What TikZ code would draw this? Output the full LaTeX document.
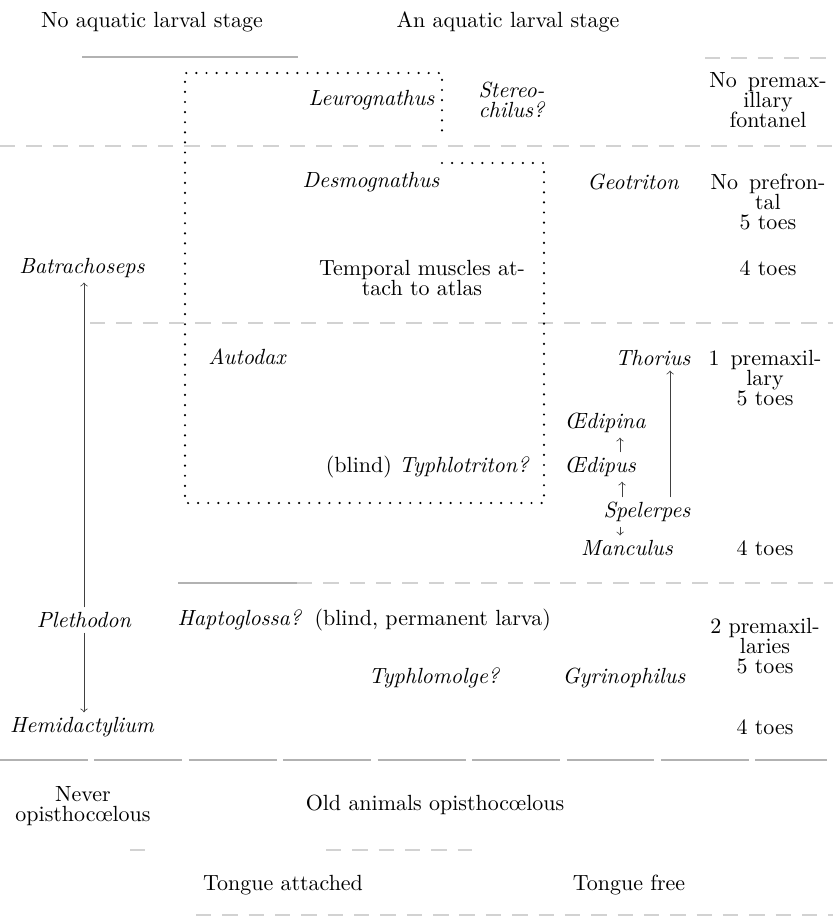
\documentclass[tikz,border=0pt]{standalone}
\usetikzlibrary{positioning}
\begin{document}
\begin{tikzpicture}
	[
		x = 0.016cm, y = -0.016cm,
		every node/.style = {inner sep = 1pt, font = \fontsize{10}{9.2}\selectfont},
		genus/.style = {font = \fontsize{10}{9.2}\selectfont\itshape},
		note/.style = {align = center},
		rule/.style = {gray!60, line width = 0.5pt},
		faint/.style = {gray!35, line width = 0.5pt, dash pattern = on 7pt off 5pt},
		dots/.style = {line width = 1.1pt, line cap = round, dash pattern = on 0pt off 4.6pt},
		link/.style = {->, black!75, line width = 0.35pt, shorten >= 1pt, shorten <= 1pt}
	]
	\useasboundingbox (0,0) rectangle (833,920);

	% headings
	\node (nolarva) at (152,22) {No aquatic larval stage};
	\node (larva) at (508,22) {An aquatic larval stage};

	% rules between the rows
	\draw[rule] (82,57) -- (298,57);
	\draw[faint] (705,58) -- (833,58);
	\draw[faint] (0,146) -- (833,146);
	\draw[faint] (90,323) -- (833,323);
	\draw[rule] (178,583) -- (297,583);
	\draw[faint] (297,583) -- (833,583);
	\draw[rule, dash pattern = on 40pt off 3pt] (0,760) -- (827,760);
	\draw[faint] (130,850) -- (156,850);
	\draw[faint] (326,850) -- (472,850);
	\draw[faint] (196,915) -- (833,915);

	% dotted boxes
	\draw[dots] (442,163) -- (544,163) -- (544,503) -- (185,503) -- (185,73) -- (442,73) -- (442,140);

	% right column
	\node[note] (nopremax) at (768,100) {No\enspace premax-\\illary\\fontanel};
	\node[note] (noprefr) at (768,202) {No\enspace prefron-\\tal\\5 toes};
	\node (toesa) at (768,268) {4 toes};
	\node[note] (onepremax) at (765,378) {1\enspace premaxil-\\lary\\5 toes};
	\node (toesb) at (765,548) {4 toes};
	\node[note] (twopremax) at (765,646) {2 premaxil-\\laries\\5 toes};
	\node (toesc) at (765,727) {4 toes};

	% genera
	\node[genus, anchor = east] (leuro) at (437,100) {Leurognathus};
	\node[genus, align = left, anchor = west] (stereo) at (476,100) {Stereo-\\chilus?};
	\node[genus] (desmo) at (371,182) {Desmognathus};
	\node[genus] (geo) at (633,182) {Geotriton};
	\node[genus] (batra) at (82,268) {Batrachoseps};
	\node[note] (temporal) at (422,278) {Temporal muscles at-\\tach to atlas};
	\node[genus] (autodax) at (247,357) {Autodax};
	\node[genus, anchor = east] (thorius) at (693,358) {Thorius};
	\node[genus] (oedipina) at (605,423) {\OE dipina};
	\node[anchor = east] (typhlotr) at (532,467) {(blind) \textit{Typhlotriton?}};
	\node[genus] (oedipus) at (600,467) {\OE dipus};
	\node[genus] (spelerpes) at (647,512) {Spelerpes};
	\node[genus] (manculus) at (627,548) {Manculus};
	\node[genus] (plethodon) at (84,620) {Plethodon};
	\node[genus, anchor = west] (hapto) at (175,620) {Haptoglossa?};
	\node[anchor = west] (blindlarva) at (312,620) {(blind, permanent larva)};
	\node[genus] (typhlomo) at (434,678) {Typhlomolge?};
	\node[genus] (gyrino) at (624,678) {Gyrinophilus};
	\node[genus] (hemi) at (82,727) {Hemidactylium};

	% bottom rows
	\node[note] (never) at (83,806) {Never\\opisthoc\oe lous};
	\node (oldanim) at (435,805) {Old animals opisthoc\oe lous};
	\node (tattached) at (283,885) {Tongue attached};
	\node (tfree) at (629,885) {Tongue free};

	% lines of descent
	\draw[link] (plethodon.north) -- (plethodon.north |- batra.south);
	\draw[link] (plethodon.south) -- (plethodon.south |- hemi.north);
	\draw[link] ([xshift = 0.37cm]spelerpes.north) -- ([xshift = 0.37cm]spelerpes.north |- thorius.south);
	\draw[link] ([xshift = -0.4cm]spelerpes.north) -- ([xshift = -0.4cm]spelerpes.north |- oedipus.south);
	\draw[link] ([xshift = 0.32cm]oedipus.north) -- ([xshift = 0.32cm]oedipus.north |- oedipina.south);
	\draw[link] ([xshift = -0.43cm]spelerpes.south) -- ([xshift = -0.43cm]spelerpes.south |- manculus.north);
\end{tikzpicture}
\end{document}
